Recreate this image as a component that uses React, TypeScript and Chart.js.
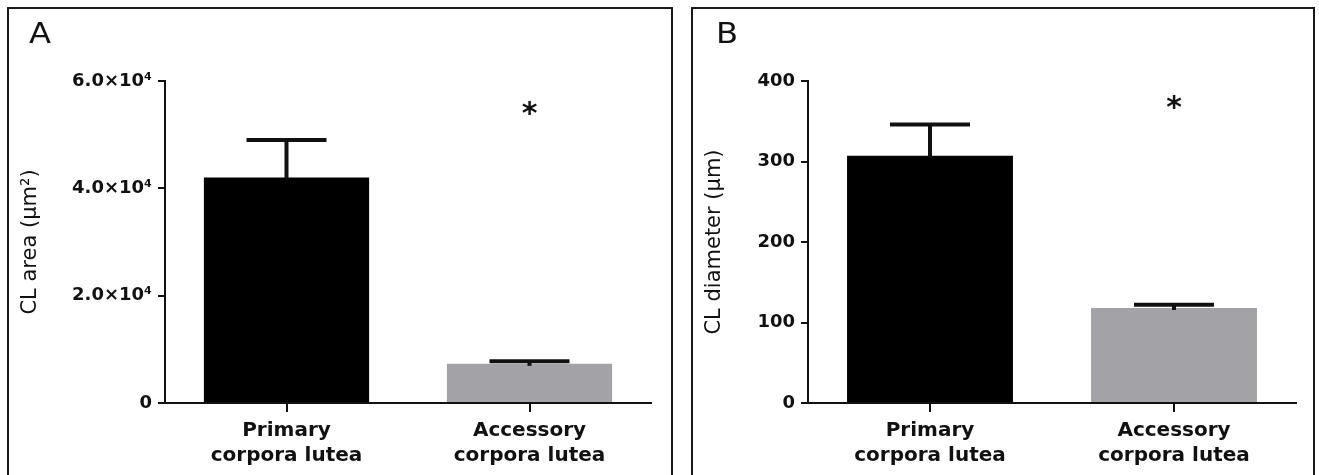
import React, { useEffect, useRef } from 'react';
import { Chart, registerables } from 'chart.js';

Chart.register(...registerables);

// ---------- data ----------
const categories = [
  ['Primary', 'corpora lutea'],
  ['Accessory', 'corpora lutea'],
];
const barColors = ['#000000', '#a3a3a7'];

// Panel A: CL area (µm²)
const areaMeans = [42000, 7300];
const areaSem = [7000, 500];
const areaTicks = [0, 20000, 40000, 60000];
const areaTickLabels = ['0', '2.0×10⁴', '4.0×10⁴', '6.0×10⁴'];
const areaSig = [null, 54600];

// Panel B: CL diameter (µm)
const diamMeans = [307, 118];
const diamSem = [39, 4];
const diamTicks = [0, 100, 200, 300, 400];
const diamTickLabels = ['0', '100', '200', '300', '400'];
const diamSig = [null, 372];

const INK = '#111111';
const FONT = 'DejaVu Sans';

const errorBarPlugin = {
  id: 'errorBars',
  afterDatasetsDraw(chart: any, _args: any, opts: any) {
    const { ctx } = chart;
    const meta = chart.getDatasetMeta(0);
    const y = chart.scales.y;
    const means: number[] = opts.means;
    const sem: number[] = opts.sem;
    const capHalf: number = opts.capHalf;
    ctx.save();
    ctx.strokeStyle = INK;
    ctx.lineWidth = opts.lineWidth;
    ctx.lineCap = 'butt';
    meta.data.forEach((bar: any, i: number) => {
      const x = bar.x;
      const yBar = y.getPixelForValue(means[i]);
      const yTop = y.getPixelForValue(means[i] + sem[i]);
      ctx.beginPath();
      ctx.moveTo(x, yBar + 2);
      ctx.lineTo(x, yTop);
      ctx.stroke();
      ctx.beginPath();
      ctx.moveTo(x - capHalf, yTop);
      ctx.lineTo(x + capHalf, yTop);
      ctx.stroke();
    });
    // significance asterisks
    const sig: (number | null)[] = opts.sig;
    const xs = chart.scales.x;
    ctx.fillStyle = INK;
    ctx.font = `bold ${opts.starSize}px ${FONT}`;
    ctx.textAlign = 'center';
    ctx.textBaseline = 'alphabetic';
    sig.forEach((v, i) => {
      if (v == null) return;
      const px = xs.getPixelForValue(i);
      const py = y.getPixelForValue(v);
      ctx.fillText('*', px, py + opts.starSize * 0.45);
    });
    ctx.restore();
  },
};

type PanelProps = {
  left: number;
  width: number;
  height: number;
  means: number[];
  sem: number[];
  ticks: number[];
  tickLabels: string[];
  sig: (number | null)[];
  max: number;
  title: string;
  yWidth: number;
  padRight: number;
};

function Panel(p: PanelProps) {
  const ref = useRef<HTMLCanvasElement | null>(null);
  useEffect(() => {
    if (!ref.current) return;
    const chart = new Chart(ref.current, {
      type: 'bar',
      data: {
        labels: categories as any,
        datasets: [
          {
            data: p.means,
            backgroundColor: barColors,
            borderWidth: 0,
            barPercentage: 0.68,
            categoryPercentage: 1,
          },
        ],
      },
      plugins: [errorBarPlugin],
      options: {
        responsive: false,
        animation: false,
        devicePixelRatio: 1,
        layout: { padding: { top: 72, right: p.padRight, left: 0, bottom: 0 } },
        plugins: {
          legend: { display: false },
          tooltip: { enabled: false },
          errorBars: {
            means: p.means,
            sem: p.sem,
            sig: p.sig,
            capHalf: 40,
            lineWidth: 4,
            starSize: 30,
          },
        } as any,
        scales: {
          x: {
            grid: {
              drawOnChartArea: false,
              drawTicks: true,
              offset: false,
              tickLength: 9,
              color: INK,
              lineWidth: 2,
            },
            border: { display: true, color: INK, width: 2 },
            ticks: {
              color: INK,
              padding: 6,
              font: { family: FONT, size: 20, weight: 'bold', lineHeight: 1.25 },
              maxRotation: 0,
            },
            afterFit: (s: any) => {
              s.height = 72;
            },
          },
          y: {
            min: 0,
            max: p.max,
            afterBuildTicks: (s: any) => {
              s.ticks = p.ticks.map((v) => ({ value: v }));
            },
            grid: {
              drawOnChartArea: false,
              drawTicks: true,
              tickLength: 7,
              color: INK,
              lineWidth: 2,
            },
            border: { display: true, color: INK, width: 2 },
            ticks: {
              color: INK,
              padding: 6,
              font: { family: FONT, size: 18, weight: 'bold' },
              callback: (v: any) => p.tickLabels[p.ticks.indexOf(Number(v))],
            },
            title: {
              display: true,
              text: p.title,
              color: INK,
              font: { family: FONT, size: 21, weight: 'normal', lineHeight: 1.2 },
              padding: { top: 9, bottom: 0 },
            },
            afterFit: (s: any) => {
              s.width = p.yWidth;
            },
          },
        },
      } as any,
    });
    return () => chart.destroy();
  }, []);
  return (
    <canvas
      ref={ref}
      width={p.width}
      height={p.height}
      style={{ position: 'absolute', left: p.left, top: 9, width: p.width, height: p.height }}
    />
  );
}

export default function App() {
  const border = '2px solid #1a1a1a';
  const letter = {
    position: 'absolute' as const,
    top: 17,
    fontFamily: FONT,
    fontSize: 28,
    color: INK,
    lineHeight: '34px',
    transform: 'scaleX(1.15)',
    transformOrigin: 'left top',
  };
  return (
    <div
      style={{
        position: 'fixed',
        left: 0,
        top: 0,
        width: 1319,
        height: 475,
        overflow: 'hidden',
        background: '#ffffff',
      }}
    >
      <div
        style={{
          position: 'absolute',
          left: 7,
          top: 7,
          width: 666,
          height: 520,
          border,
          boxSizing: 'border-box',
        }}
      />
      <div
        style={{
          position: 'absolute',
          left: 691,
          top: 7,
          width: 624,
          height: 520,
          border,
          boxSizing: 'border-box',
        }}
      />
      <Panel
        left={9}
        width={662}
        height={466}
        means={areaMeans}
        sem={areaSem}
        ticks={areaTicks}
        tickLabels={areaTickLabels}
        sig={areaSig}
        max={60000}
        title="CL area (μm²)"
        yWidth={156}
        padRight={20}
      />
      <Panel
        left={693}
        width={620}
        height={466}
        means={diamMeans}
        sem={diamSem}
        ticks={diamTicks}
        tickLabels={diamTickLabels}
        sig={diamSig}
        max={400}
        title="CL diameter (μm)"
        yWidth={115}
        padRight={17}
      />
      <div style={{ ...letter, left: 29 }}>A</div>
      <div style={{ ...letter, left: 716 }}>B</div>
    </div>
  );
}
